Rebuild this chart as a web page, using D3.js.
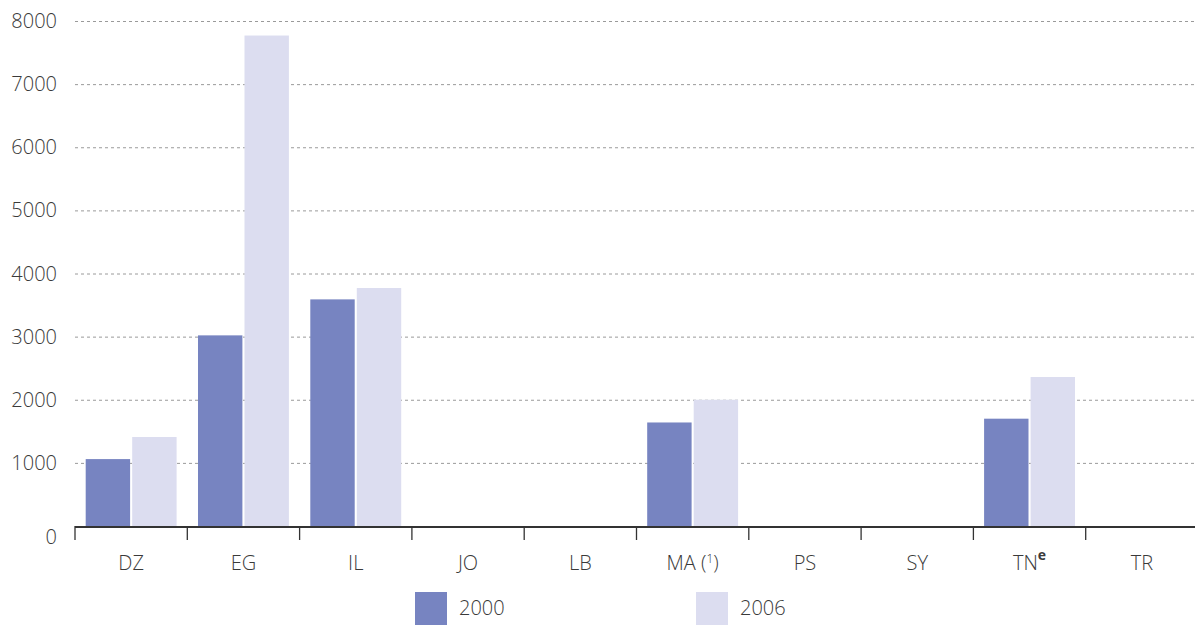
<!DOCTYPE html>
<html>
<head>
<meta charset="utf-8">
<script src="https://cdn.jsdelivr.net/npm/d3@7"></script>
<style>
  html, body { margin: 0; padding: 0; background: #fff; }
  svg { display: block; font-family: "Open Sans", "Noto Sans", sans-serif; font-weight: 300; }
</style>
</head>
<body>
<svg id="chart" width="1195" height="625"></svg>
<script>
const categories = ["DZ", "EG", "IL", "JO", "LB", "MA", "PS", "SY", "TN", "TR"];
const series2000 = [1060, 3020, 3590, null, null, 1640, null, null, 1700, null];
const series2006 = [1410, 7770, 3770, null, null, 2000, null, null, 2360, null];
const seriesNames = ["2000", "2006"];
const seriesColors = ["#7784c1", "#dcddf0"];
const yTicks = [0, 1000, 2000, 3000, 4000, 5000, 6000, 7000, 8000];

const svg = d3.select("#chart");
const W = 1195;
const x0 = 75, x1 = 1198, yTop = 21, yBot = 526;

const x = d3.scaleBand().domain(categories).range([x0, x1]).paddingInner(0).paddingOuter(0);
const xs = d3.scaleBand().domain(seriesNames).range([0, x.bandwidth()]).paddingInner(0.045).paddingOuter(0.23);
const y = d3.scaleLinear().domain([0, 8000]).range([yBot, yTop]);

// gridlines
svg.append("g").selectAll("line").data(yTicks.filter(d => d > 0)).join("line")
  .attr("x1", x0).attr("x2", W)
  .attr("y1", d => y(d) + 0.5).attr("y2", d => y(d) + 0.5)
  .attr("stroke", "#9a9a9a").attr("stroke-width", 1)
  .attr("stroke-dasharray", "3,3");

// y labels
svg.append("g").selectAll("text").data(yTicks).join("text")
  .attr("x", 57)
  .attr("y", d => d === 0 ? y(d) + 11 : y(d))
  .attr("dy", "0.35em")
  .attr("text-anchor", "end")
  .attr("font-size", 20)
  .attr("fill", "#3a3a3a")
  .text(d => d);

// bars
const data = categories.map((c, i) => ({ c, vals: [series2000[i], series2006[i]] }));
const groups = svg.append("g").selectAll("g").data(data).join("g")
  .attr("transform", d => `translate(${x(d.c)},0)`);
groups.selectAll("rect")
  .data(d => d.vals.map((v, j) => ({ v, s: seriesNames[j], color: seriesColors[j] })).filter(e => e.v != null))
  .join("rect")
  .attr("x", e => xs(e.s))
  .attr("width", xs.bandwidth())
  .attr("y", e => y(e.v))
  .attr("height", e => yBot - y(e.v))
  .attr("fill", e => e.color);

// x axis
const xAxis = d3.axisBottom(x).tickSize(0).tickFormat("");
const gx = svg.append("g").attr("transform", `translate(0,${yBot})`).call(xAxis);
gx.select(".domain").remove();
svg.append("line").attr("x1", x0).attr("x2", W).attr("y1", yBot + 1).attr("y2", yBot + 1)
  .attr("stroke", "#333").attr("stroke-width", 2);
// category boundary ticks
const bounds = categories.map(c => x(c)).concat([x1]);
svg.append("g").selectAll("line").data(bounds).join("line")
  .attr("x1", d => d).attr("x2", d => d)
  .attr("y1", yBot).attr("y2", yBot + 14)
  .attr("stroke", "#333").attr("stroke-width", 1.3);

// category labels
const labels = svg.append("g").selectAll("text").data(categories).join("text")
  .attr("x", d => x(d) + x.bandwidth() / 2)
  .attr("y", 563)
  .attr("dy", "0.35em")
  .attr("text-anchor", "middle")
  .attr("font-size", 20)
  .attr("fill", "#3a3a3a");
labels.each(function(d) {
  const t = d3.select(this);
  if (d === "MA") {
    t.append("tspan").text("MA (");
    t.append("tspan").attr("font-size", 12).attr("dy", "-0.6em").text("1");
    t.append("tspan").attr("dy", "0.36em").text(")");
  } else if (d === "TN") {
    t.append("tspan").text("TN");
    t.append("tspan").attr("font-size", 14).attr("font-weight", "bold").attr("dy", "-0.7em").text("e");
  } else {
    t.text(d);
  }
});

// legend
const legendX = [415, 696];
const leg = svg.append("g").selectAll("g").data(seriesNames).join("g")
  .attr("transform", (d, i) => `translate(${legendX[i]},592)`);
leg.append("rect").attr("width", 32).attr("height", 33).attr("fill", (d, i) => seriesColors[i]);
leg.append("text").attr("x", 44).attr("y", 16).attr("dy", "0.35em")
  .attr("font-size", 20).attr("fill", "#3a3a3a").text(d => d);
</script>
</body>
</html>
